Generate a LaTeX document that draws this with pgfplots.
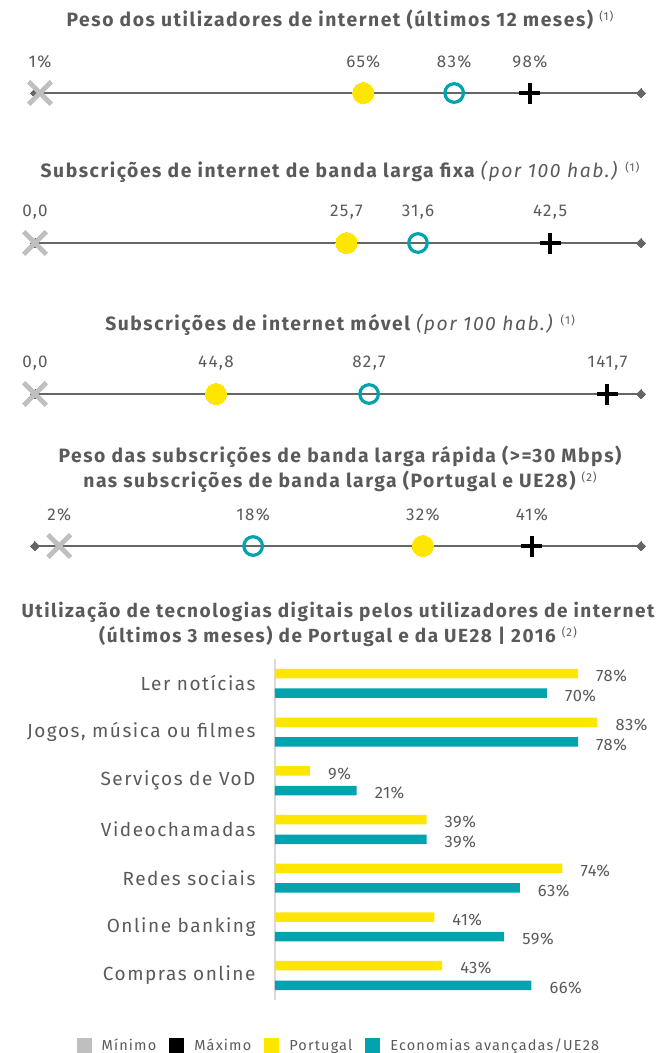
\documentclass[border=0pt]{standalone}
\usepackage{fontspec}
\setmainfont{Fira Sans}[LetterSpace=8]
\newfontfamily\numfont{Fira Sans}[LetterSpace=3]
\usepackage{pgfplots}
\pgfplotsset{compat=1.18}
\definecolor{eyyellow}{HTML}{FFE600}
\definecolor{eyteal}{HTML}{00A3AE}
\definecolor{mingray}{HTML}{BFBFBF}
\definecolor{linegray}{HTML}{666666}
\definecolor{txt}{HTML}{5A5A5A}
\definecolor{axgray}{HTML}{D9D9D9}
\newcommand\sups[1]{\raisebox{6pt}{\fontsize{11.5}{11.5}\selectfont\mdseries\upshape #1}}
\newcommand\titlefont{\fontsize{19.3}{25}\selectfont\bfseries}
\pgfplotsset{
 strip/.style={width=606pt, height=20pt, scale only axis, hide axis, clip=false,
   ymin=-1, ymax=1, xmin=0, anchor=west, point meta=explicit symbolic,
   every node near coord/.append style={anchor=center, yshift=31pt,
     font=\fontsize{17}{17}\selectfont, text=txt, inner sep=0pt}},
 basel/.style={linegray, line width=2.5pt, mark=square*, mark size=3.3pt,
   mark options={rotate=45, fill=linegray, draw=linegray, line width=0pt}},
 pmin/.style={only marks, mark=x, mark size=16pt, mingray, line width=4.7pt, nodes near coords},
 pmax/.style={only marks, mark=+, mark size=10.5pt, black, line width=4pt, nodes near coords},
 ppt/.style={only marks, mark=*, mark size=10.5pt, eyyellow, mark options={draw=eyyellow, fill=eyyellow, line width=0pt}, nodes near coords},
 pea/.style={only marks, mark=o, mark size=9.3pt, eyteal, line width=3.2pt, nodes near coords},
}
\begin{document}
\begin{tikzpicture}
\useasboundingbox (0pt,0pt) rectangle (659pt,-1053pt);
% titles
\node[text=txt, font=\titlefont] at (340pt,-20pt) {Peso dos utilizadores de internet (últimos 12 meses) \sups{(1)}};
\node[text=txt, font=\titlefont] at (340pt,-172pt) {Subscrições de internet de banda larga fixa {\mdseries\itshape (por 100 hab.)} \sups{(1)}};
\node[text=txt, font=\titlefont] at (340pt,-325pt) {Subscrições de internet móvel {\mdseries\itshape (por 100 hab.)} \sups{(1)}};
\node[text=txt, font=\titlefont, align=center] at (340pt,-469pt) {Peso das subscrições de banda larga rápida (>=30 Mbps)\\nas subscrições de banda larga (Portugal e UE28) \sups{(2)}};
\node[text=txt, font=\fontsize{19}{25}\selectfont\bfseries, align=center] at (338pt,-624pt) {Utilização de tecnologias digitais pelos utilizadores de internet\\(últimos 3 meses) de Portugal e da UE28 | 2016 \sups{(2)}};

% strip 1
\begin{axis}[strip, at={(35pt,-93pt)}, xmax=120]
\addplot[basel] coordinates {(0,0) (120,0)};
\addplot[pmin] coordinates {(1,0) [1\%]};
\addplot[pmax] coordinates {(98,0) [98\%]};
\addplot[ppt] coordinates {(65,0) [65\%]};
\addplot[pea] coordinates {(83,0) [83\%]};
\end{axis}
% strip 2
\begin{axis}[strip, at={(35pt,-243pt)}, xmax=50]
\addplot[basel] coordinates {(0,0) (50,0)};
\addplot[pmin] coordinates {(0,0) [{0,0}]};
\addplot[pmax] coordinates {(42.5,0) [{42,5}]};
\addplot[ppt] coordinates {(25.7,0) [{25,7}]};
\addplot[pea] coordinates {(31.6,0) [{31,6}]};
\end{axis}
% strip 3
\begin{axis}[strip, at={(35pt,-394pt)}, xmax=150]
\addplot[basel] coordinates {(0,0) (150,0)};
\addplot[pmin] coordinates {(0,0) [{0,0}]};
\addplot[pmax] coordinates {(141.7,0) [{141,7}]};
\addplot[ppt] coordinates {(44.8,0) [{44,8}]};
\addplot[pea] coordinates {(82.7,0) [{82,7}]};
\end{axis}
% strip 4
\begin{axis}[strip, at={(35pt,-546pt)}, xmax=50]
\addplot[basel] coordinates {(0,0) (50,0)};
\addplot[pmin] coordinates {(2,0) [2\%]};
\addplot[pmax] coordinates {(41,0) [41\%]};
\addplot[ppt] coordinates {(32,0) [32\%]};
\addplot[pea] coordinates {(18,0) [18\%]};
\end{axis}

% bar chart
\begin{axis}[at={(275pt,-999.8pt)}, anchor=south west, width=388.5pt, height=340.7pt,
  scale only axis, clip=false, xbar, bar width=9.5pt,
  xmin=0, xmax=100, ymin=-0.5, ymax=6.5,
  axis x line=none, axis y line*=left,
  y axis line style={draw=axgray, line width=1.2pt, -},
  major tick length=0pt,
  ytick={0,...,6},
  yticklabels={Compras online, Online banking, Redes sociais, Videochamadas, Serviços de VoD, {Jogos, música ou filmes}, Ler notícias},
  y tick label style={font=\fontsize{19}{19}\selectfont, text=txt, xshift=-16pt},
  point meta=x,
  /pgf/number format/assume math mode=true,
  nodes near coords={\pgfmathprintnumber{\pgfplotspointmeta}\%},
  every node near coord/.append style={anchor=west, inner sep=0pt, xshift=18pt, yshift=-2.5pt, font=\numfont\fontsize{16.5}{16.5}\selectfont, text=txt},
  legend columns=4,
  legend image code/.code={\fill[#1] (0pt,-7.5pt) rectangle (15pt,7.5pt);},
  legend style={at={(0.162,-0.135)}, anchor=center, draw=none, fill=none,
    font=\fontsize{14.5}{14.5}\selectfont, text=txt,
    nodes={inner sep=0pt},
    /tikz/every odd column/.append style={column sep=10pt},
    /tikz/every even column/.append style={column sep=13pt}},
]
\addlegendimage{fill=mingray, draw=none}
\addlegendentry{Mínimo}
\addlegendimage{fill=black, draw=none}
\addlegendentry{Máximo}
\addlegendimage{fill=eyyellow, draw=none}
\addlegendentry{Portugal}
\addlegendimage{fill=eyteal, draw=none}
\addlegendentry{Economias avançadas/UE28}
\addplot[fill=eyyellow, draw=none, bar shift=9.8pt, forget plot] coordinates {(78,6) (83,5) (9,4) (39,3) (74,2) (41,1) (43,0)};
\addplot[fill=eyteal, draw=none, bar shift=-9.8pt, forget plot] coordinates {(70,6) (78,5) (21,4) (39,3) (63,2) (59,1) (66,0)};
\end{axis}
\end{tikzpicture}
\end{document}
